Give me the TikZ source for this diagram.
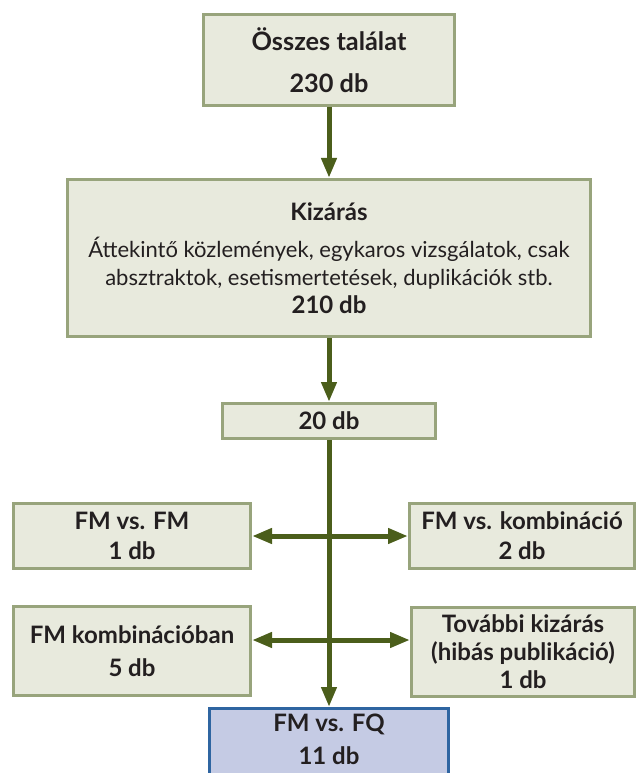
\documentclass[tikz,border=0pt]{standalone}
\usepackage{fontspec}
\setmainfont{Lato}
\usetikzlibrary{arrows.meta, positioning}

\definecolor{boxfill}{HTML}{E8EADD}
\definecolor{boxline}{HTML}{98A47C}
\definecolor{arrowgreen}{HTML}{4B5E1B}
\definecolor{resfill}{HTML}{C5CBE4}
\definecolor{resline}{HTML}{2F65A1}
\definecolor{textdark}{HTML}{231F20}

\newcommand{\plaintext}{\mdseries\fontsize{16.5}{21}\selectfont}

\tikzset{
  block/.style={
    rectangle,
    draw=boxline,
    fill=boxfill,
    line width=2.2pt,
    align=center,
    text=textdark,
    inner sep=4pt,
    font=\fontsize{18}{21}\selectfont\bfseries
  },
  result/.style={block, draw=resline, fill=resfill},
  arrow/.style={-{Triangle[length=15pt, width=11pt]}, line width=3.75pt, arrowgreen},
  dblarrow/.style={{Triangle[length=15pt, width=11pt]}-{Triangle[length=15pt, width=11pt]}, line width=3.75pt, arrowgreen}
}

\begin{document}
\begin{tikzpicture}[node distance=53.25pt]
  \useasboundingbox (-246.75pt,45pt) rectangle (231.75pt,-534.75pt);
  \clip (-246.75pt,45pt) rectangle (231.75pt,-534.75pt);

  % main column
  \node[block, minimum width=188.3pt, minimum height=68.3pt, font=\fontsize{19}{21}\selectfont\bfseries] (total) at (0,0) {Összes találat\\[10.5pt]230 db};
  \node[block, below=of total, minimum width=392.3pt, minimum height=117.8pt] (excl)
    {Kizárás\\[6.75pt]\plaintext Áttekintő közlemények, egykaros vizsgálatok, csak\\\plaintext absztraktok, esetismertetések, duplikációk stb.\\210 db};
  \node[block, below=48pt of excl, minimum width=159.8pt, minimum height=26.3pt] (mid) {20 db};
  \coordinate[below=72pt of mid] (j1);
  \coordinate[below=78pt of j1] (j2);
  \node[result, below=200.25pt of mid, minimum width=179.3pt, minimum height=62pt, text depth=16pt] (fq) {FM vs. FQ\\[4pt]11 db};

  % side boxes
  \node[block, left=57.75pt of j1, minimum width=177.8pt, minimum height=48.8pt] (fmfm) {FM vs. FM\\[1.5pt]1 db};
  \node[block, right=59.25pt of j1, minimum width=168.8pt, minimum height=48.8pt] (fmkomb) {FM vs. kombináció\\[1.5pt]2 db};
  \node[block, left=57.75pt of j2, yshift=-8.25pt, minimum width=177.8pt, minimum height=66.8pt] (kombban) {FM kombinációban\\[3.75pt]5 db};
  \node[block, right=60.75pt of j2, yshift=-9pt, minimum width=167.3pt, minimum height=66.8pt] (tovabbi) {További kizárás\\(hibás publikáció)\\1 db};

  \draw[arrow] (total) -- (excl);
  \draw[arrow] (excl) -- (mid);
  \draw[arrow] (mid) -- (fq);
  \draw[dblarrow] (j1 -| fmfm.east) -- (j1 -| fmkomb.west);
  \draw[dblarrow] (j2 -| kombban.east) -- (j2 -| tovabbi.west);
\end{tikzpicture}
\end{document}
